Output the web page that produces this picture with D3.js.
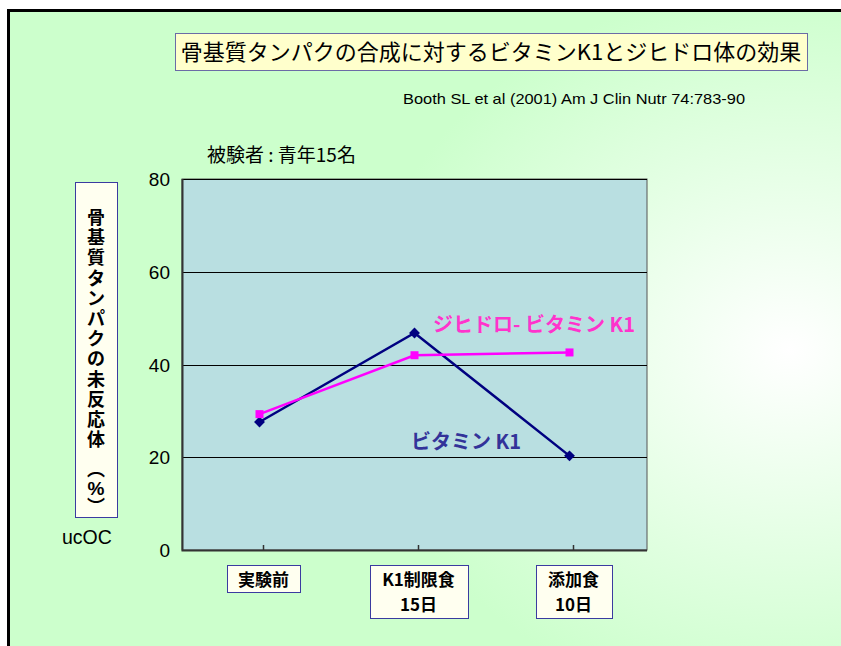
<!DOCTYPE html>
<html lang="ja">
<head>
<meta charset="UTF-8">
<title>骨基質タンパクの合成に対するビタミンK1とジヒドロ体の効果</title>
<script src="https://d3js.org/d3.v7.min.js"></script>
<style>
  html, body { margin: 0; padding: 0; background: #fff; }
  svg { display: block; }
  .jp { font-family: "Noto Sans CJK JP", "Noto Sans", sans-serif; }
  .lat { font-family: "Liberation Sans", Arial, sans-serif; }
</style>
</head>
<body>
<div id="chart"></div>
<script>
// data
const categories = ["実験前", "K1制限食", "添加食"];
const categorySub = ["", "15日", "10日"];
const vitaminK1 = [27.6, 46.8, 20.3];
const dihydroK1 = [29.3, 42.0, 42.6];
const yTicks = [0, 20, 40, 60, 80];
const yLabelChars = ["骨","基","質","タ","ン","パ","ク","の","未","反","応","体"];

const W = 841, H = 646;
const plot = { left: 182, right: 647, top: 179, bottom: 550 };

const svg = d3.select("#chart").append("svg")
  .attr("width", W).attr("height", H);

// slide background
const defs = svg.append("defs");
const grad = defs.append("radialGradient")
  .attr("id", "bg")
  .attr("gradientUnits", "userSpaceOnUse")
  .attr("cx", 790).attr("cy", 350).attr("r", 430)
  .attr("gradientTransform", "translate(790,350) scale(1,0.85) translate(-790,-350)");
grad.append("stop").attr("offset", "0%").attr("stop-color", "#ffffff");
grad.append("stop").attr("offset", "100%").attr("stop-color", "#ccffcc");

svg.append("rect").attr("width", W).attr("height", H).attr("fill", "#fff");
svg.append("rect").attr("x", 8).attr("y", 10).attr("width", W).attr("height", H)
  .attr("fill", "url(#bg)");
// frame
svg.append("path")
  .attr("d", `M8.5,${H} V10.5 H${W}`)
  .attr("fill", "none").attr("stroke", "#000").attr("stroke-width", 3);

// title box
svg.append("rect")
  .attr("x", 175.5).attr("y", 33.5).attr("width", 632).attr("height", 37)
  .attr("fill", "#ffffcc").attr("stroke", "#6b6ba6").attr("stroke-width", 1);
svg.append("text").attr("class", "jp")
  .attr("x", 491).attr("y", 60).attr("text-anchor", "middle")
  .attr("font-size", 22).attr("fill", "#000")
  .text("骨基質タンパクの合成に対するビタミンK1とジヒドロ体の効果");

svg.append("text").attr("class", "lat")
  .attr("x", 403).attr("y", 104).attr("font-size", 15).attr("fill", "#000")
  .attr("textLength", 342).attr("lengthAdjust", "spacingAndGlyphs")
  .text("Booth SL et al (2001) Am J Clin Nutr 74:783-90");

svg.append("text").attr("class", "jp")
  .attr("x", 207).attr("y", 162).attr("font-size", 19).attr("fill", "#000")
  .text("被験者 : 青年15名");

// scales
const x = d3.scaleBand().domain(d3.range(categories.length))
  .range([plot.left, plot.right]);
const cx = i => x(i) + x.bandwidth() / 2;
const y = d3.scaleLinear().domain([0, 80]).range([plot.bottom, plot.top]);

// plot area
svg.append("rect")
  .attr("x", plot.left).attr("y", plot.top)
  .attr("width", plot.right - plot.left).attr("height", plot.bottom - plot.top)
  .attr("fill", "#b9dfe1").attr("stroke", "#555").attr("stroke-width", 1);

// gridlines
svg.append("g")
  .attr("transform", `translate(${plot.left},0)`)
  .call(d3.axisLeft(y).tickValues(yTicks).tickSize(-(plot.right - plot.left)).tickFormat(""))
  .call(g => g.select(".domain").remove())
  .call(g => g.selectAll("line").attr("stroke", "#000").attr("shape-rendering", "crispEdges"));

// y tick labels
svg.append("g")
  .attr("transform", `translate(${plot.left},0)`)
  .call(d3.axisLeft(y).tickValues(yTicks).tickSize(0).tickPadding(12))
  .call(g => g.select(".domain").remove())
  .call(g => g.selectAll("text")
    .attr("class", "lat").attr("font-size", 19).attr("fill", "#000").attr("dy", "0.35em"));

// axis lines (left + bottom)
svg.append("path")
  .attr("d", `M${plot.left + 0.5},${plot.top} V${plot.bottom + 0.5} H${plot.right}`)
  .attr("fill", "none").attr("stroke", "#333").attr("stroke-width", 2);

// x ticks
svg.append("g")
  .attr("transform", `translate(4,${plot.bottom})`)
  .call(d3.axisBottom(x).tickSize(-5).tickFormat(""))
  .call(g => g.select(".domain").remove())
  .call(g => g.selectAll("line").attr("stroke", "#333").attr("stroke-width", 1.5));

// x category labels in boxes
const boxes = [
  { w: 73, h: 27 },
  { w: 98, h: 53 },
  { w: 76, h: 53 }
];
categories.forEach((c, i) => {
  const b = boxes[i];
  const bx = cx(i) + 4 - b.w / 2;
  const g = svg.append("g");
  g.append("rect")
    .attr("x", Math.round(bx) + 0.5).attr("y", 565.5)
    .attr("width", b.w).attr("height", b.h)
    .attr("fill", "#fffff0").attr("stroke", "#3b3ba0").attr("stroke-width", 1);
  const t = g.append("text").attr("class", "jp")
    .attr("text-anchor", "middle").attr("font-size", 17).attr("font-weight", "bold")
    .attr("fill", "#000");
  t.append("tspan").attr("x", bx + b.w / 2).attr("y", 586).text(c);
  if (categorySub[i]) t.append("tspan").attr("x", bx + b.w / 2).attr("y", 611).text(categorySub[i]);
});

// y axis title box, characters stacked
svg.append("rect")
  .attr("x", 75.5).attr("y", 182.5).attr("width", 42).attr("height", 335)
  .attr("fill", "#fffff0").attr("stroke", "#3b3ba0").attr("stroke-width", 1);
const yt = svg.append("text").attr("class", "jp")
  .attr("text-anchor", "middle").attr("font-size", 18).attr("font-weight", "bold").attr("fill", "#000");
yLabelChars.forEach((ch, i) => {
  yt.append("tspan").attr("x", 96).attr("y", 224 + i * 20.2).text(ch);
});
yt.append("tspan").attr("x", 96).attr("y", 476).text("︵");
yt.append("tspan").attr("x", 96).attr("y", 495).text("%").attr("class", "lat").attr("font-size", 19);
yt.append("tspan").attr("x", 96).attr("y", 513).text("︶");

svg.append("text").attr("class", "lat")
  .attr("x", 62).attr("y", 544).attr("font-size", 19.5).attr("fill", "#000")
  .text("ucOC");

// series
const line = d3.line().x((d, i) => cx(i)).y(d => y(d));

svg.append("path").datum(vitaminK1)
  .attr("d", line).attr("fill", "none")
  .attr("stroke", "#000080").attr("stroke-width", 2.5);
svg.append("path").datum(dihydroK1)
  .attr("d", line).attr("fill", "none")
  .attr("stroke", "#ff00ff").attr("stroke-width", 2.5);

svg.append("g").selectAll("path")
  .data(vitaminK1).join("path")
  .attr("d", d3.symbol(d3.symbolDiamond2, 75))
  .attr("transform", (d, i) => `translate(${cx(i)},${y(d)})`)
  .attr("fill", "#000080");
svg.append("g").selectAll("rect")
  .data(dihydroK1).join("rect")
  .attr("x", (d, i) => cx(i) - 4).attr("y", d => y(d) - 4)
  .attr("width", 8).attr("height", 8)
  .attr("fill", "#ff00ff");

// series labels
svg.append("text").attr("class", "jp")
  .attr("x", 433).attr("y", 332).attr("font-size", 20).attr("font-weight", "bold")
  .attr("fill", "#ff33cc")
  .text("ジヒドロ- ビタミン K1");
svg.append("text").attr("class", "jp")
  .attr("x", 411).attr("y", 449).attr("font-size", 20).attr("font-weight", "bold")
  .attr("fill", "#333399")
  .text("ビタミン K1");
</script>
</body>
</html>
